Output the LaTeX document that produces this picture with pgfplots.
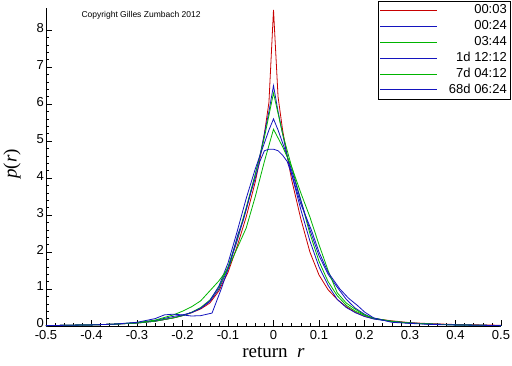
\documentclass[border=0pt]{standalone}
\usepackage{pgfplots}
\pgfplotsset{compat=1.18}
\usepackage{fontspec}
\setmainfont{Liberation Sans}
\newfontfamily\seriffont{Liberation Serif}
\definecolor{cred}{RGB}{200,0,0}
\definecolor{cblue}{RGB}{20,20,190}
\definecolor{cgreen}{RGB}{0,180,0}
\begin{document}
\begin{tikzpicture}
\begin{axis}[
  scale only axis, width=455pt, height=318pt,
  xmin=-0.5, xmax=0.5, ymin=0, ymax=8.6,
  axis lines=left, axis line style={-, black, line width=0.8pt},
  xtick={-0.5,-0.4,...,0.5}, ytick={0,1,...,8},
  xticklabels={-0.5,-0.4,-0.3,-0.2,-0.1,0,0.1,0.2,0.3,0.4,0.5},
  yticklabels={0,1,2,3,4,5,6,7,8},
  minor x tick num=4, minor y tick num=4,
  tick align=inside, major tick length=6pt, minor tick length=3pt,
  tick style={black, line width=0.6pt},
  /pgf/number format/assume math mode=true,
  ticklabel style={font=\fontsize{13}{13}\selectfont},
  yticklabel style={yshift=2.5pt, inner xsep=2pt},
  xticklabel style={yshift=-1pt},
  xlabel={\seriffont return \ \textit{r}},
  ylabel={\seriffont\textit{p}(\textit{r})},
  label style={font=\fontsize{19}{19}\selectfont},
  xlabel style={at={(axis description cs:0.5,-0.082)}, anchor=center},
  ylabel style={at={(axis description cs:-0.0747,0.51)}, anchor=center},
  legend cell align=right,
  legend style={at={(axis description cs:1.0198,1.022)}, anchor=north east,
    draw=black, fill=white, font=\fontsize{13}{13}\selectfont,
    inner xsep=2pt, inner ysep=2pt, row sep=1.4pt,
    nodes={inner sep=1pt, text height=9.5pt, text depth=3pt},
    /tikz/every odd column/.append style={column sep=10pt}},
  legend image code/.code={\draw[#1, line width=1pt] (0pt,0pt) -- (57pt,0pt);},
  every axis plot/.append style={line width=0.8pt},
  clip=false,
]
\addplot[cred] coordinates {
(-0.5,0.01)(-0.45,0.02)(-0.4,0.03)(-0.35,0.05)(-0.3,0.08)(-0.26,0.13)(-0.22,0.22)(-0.2,0.28)(-0.18,0.36)(-0.16,0.46)(-0.14,0.62)(-0.12,0.95)(-0.1,1.45)(-0.08,2.15)(-0.06,2.95)(-0.04,3.9)(-0.03,4.5)(-0.02,5.2)(-0.01,6.05)(0,8.55)(0.01,6.2)(0.02,5.3)(0.03,4.6)(0.04,3.95)(0.06,2.9)(0.08,2.0)(0.1,1.38)(0.12,0.98)(0.14,0.72)(0.16,0.52)(0.18,0.37)(0.2,0.26)(0.22,0.2)(0.26,0.14)(0.3,0.09)(0.35,0.06)(0.4,0.04)(0.45,0.03)(0.5,0.02)};
\addlegendentry{00:03}
\addplot[cblue] coordinates {
(-0.5,0.01)(-0.45,0.02)(-0.4,0.03)(-0.35,0.05)(-0.3,0.08)(-0.26,0.13)(-0.22,0.22)(-0.2,0.28)(-0.18,0.37)(-0.16,0.48)(-0.14,0.66)(-0.12,1.0)(-0.1,1.55)(-0.08,2.3)(-0.06,3.15)(-0.04,4.1)(-0.03,4.6)(-0.02,5.2)(-0.01,5.8)(0,6.5)(0.01,5.8)(0.02,5.2)(0.03,4.6)(0.04,4.1)(0.06,3.15)(0.08,2.3)(0.1,1.6)(0.12,1.1)(0.14,0.72)(0.16,0.5)(0.18,0.36)(0.2,0.26)(0.22,0.19)(0.26,0.12)(0.3,0.08)(0.35,0.05)(0.4,0.03)(0.45,0.02)(0.5,0.01)};
\addlegendentry{00:24}
\addplot[cgreen] coordinates {
(-0.5,0.01)(-0.45,0.02)(-0.4,0.03)(-0.35,0.05)(-0.3,0.08)(-0.26,0.13)(-0.22,0.22)(-0.2,0.28)(-0.18,0.37)(-0.16,0.5)(-0.14,0.7)(-0.12,1.05)(-0.1,1.6)(-0.08,2.35)(-0.06,3.2)(-0.04,4.1)(-0.03,4.6)(-0.02,5.1)(-0.01,5.7)(0,6.3)(0.01,5.75)(0.02,5.2)(0.03,4.75)(0.04,4.3)(0.06,3.4)(0.08,2.5)(0.1,1.75)(0.12,1.2)(0.14,0.82)(0.16,0.56)(0.18,0.4)(0.2,0.29)(0.22,0.21)(0.26,0.13)(0.3,0.08)(0.35,0.05)(0.4,0.03)(0.45,0.02)(0.5,0.01)};
\addlegendentry{03:44}
\addplot[cblue] coordinates {
(-0.5,0.01)(-0.45,0.02)(-0.4,0.03)(-0.35,0.05)(-0.3,0.09)(-0.26,0.15)(-0.22,0.26)(-0.2,0.3)(-0.18,0.36)(-0.16,0.48)(-0.14,0.68)(-0.12,1.08)(-0.1,1.7)(-0.08,2.55)(-0.06,3.45)(-0.04,4.25)(-0.03,4.6)(-0.02,4.95)(-0.01,5.3)(0,5.6)(0.01,5.3)(0.02,4.95)(0.03,4.6)(0.04,4.2)(0.06,3.4)(0.08,2.6)(0.1,1.9)(0.12,1.4)(0.14,1.05)(0.16,0.72)(0.18,0.48)(0.2,0.32)(0.22,0.2)(0.26,0.12)(0.3,0.08)(0.35,0.05)(0.4,0.03)(0.45,0.02)(0.5,0.01)};
\addlegendentry{1d 12:12}
\addplot[cgreen] coordinates {
(-0.5,0.01)(-0.45,0.02)(-0.4,0.03)(-0.35,0.05)(-0.3,0.09)(-0.26,0.16)(-0.22,0.3)(-0.2,0.4)(-0.18,0.52)(-0.16,0.68)(-0.14,0.95)(-0.12,1.22)(-0.1,1.55)(-0.08,2.1)(-0.06,2.65)(-0.04,3.5)(-0.02,4.45)(0,5.32)(0.02,4.85)(0.04,4.3)(0.06,3.6)(0.08,2.95)(0.1,2.2)(0.12,1.5)(0.14,0.9)(0.16,0.62)(0.18,0.45)(0.2,0.3)(0.22,0.21)(0.26,0.12)(0.3,0.08)(0.35,0.05)(0.4,0.03)(0.45,0.02)(0.5,0.01)};
\addlegendentry{7d 04:12}
\addplot[cblue] coordinates {
(-0.5,0.01)(-0.45,0.02)(-0.4,0.03)(-0.35,0.05)(-0.3,0.1)(-0.26,0.2)(-0.24,0.3)(-0.22,0.32)(-0.2,0.3)(-0.18,0.27)(-0.16,0.28)(-0.135,0.35)(-0.114,1.03)(-0.096,1.68)(-0.078,2.49)(-0.067,2.84)(-0.05,3.6)(-0.04,4.0)(-0.03,4.45)(-0.02,4.74)(-0.01,4.78)(0,4.78)(0.01,4.74)(0.02,4.62)(0.03,4.45)(0.04,4.1)(0.06,3.3)(0.084,2.57)(0.1,2.0)(0.12,1.45)(0.146,1.0)(0.165,0.75)(0.185,0.55)(0.2,0.38)(0.22,0.22)(0.26,0.1)(0.3,0.07)(0.35,0.04)(0.4,0.03)(0.45,0.02)(0.5,0.01)};
\addlegendentry{68d 06:24}
\node[anchor=west, font=\fontsize{8.5}{8.5}\selectfont] at (axis description cs:0.0703,0.978) {Copyright Gilles Zumbach 2012};
\end{axis}
\pgfresetboundingbox
\path[use as bounding box] (-46pt,-40pt) rectangle (466pt,326pt);
\end{tikzpicture}
\end{document}
